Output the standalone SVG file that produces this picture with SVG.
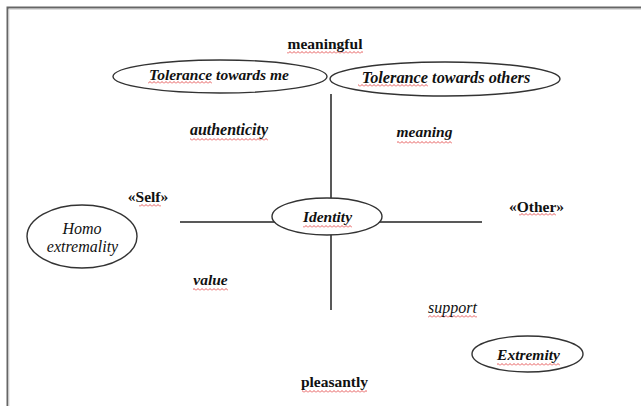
<svg xmlns="http://www.w3.org/2000/svg" width="641" height="406" viewBox="0 0 641 406" font-family="'Liberation Serif', 'Times New Roman', serif">
<defs>
<pattern id="wave" x="0" y="0" width="4" height="3" patternUnits="userSpaceOnUse">
<path d="M0,2.5 L2,0.5 L4,2.5" fill="none" stroke="#e03030" stroke-width="0.8"/>
</pattern>
<style>
.frame{stroke:#666;stroke-width:2;fill:none}
.conn{stroke:#222;stroke-width:1.5;fill:none}
.node{fill:#fff;stroke:#333;stroke-width:1.4}
text{font-family:'Liberation Serif','Times New Roman',serif;font-size:15.5px;fill:#111;text-anchor:middle}
.bi{font-weight:bold;font-style:italic}
.b{font-weight:bold}
.i{font-style:italic}
.s16{font-size:16px}
.s163{font-size:16.3px}
.sq{fill:url(#wave)}
</style>
</defs>
<rect width="641" height="406" fill="#fff"/>
<path class="frame" d="M7.5,406 V7.5 H641"/>
<path d="M9,406 V9.5 H641" stroke="#ddd" stroke-width="1" fill="none"/>

<g id="connectors">
<line class="conn" x1="331" y1="94" x2="331" y2="310"/>
<line class="conn" x1="180" y1="222" x2="482" y2="222"/>
</g>

<g id="tolerance-me">
<ellipse class="node" cx="220" cy="76.5" rx="107" ry="16.5"/>
<rect class="sq" x="148" y="81" width="64" height="3"/>
<text class="bi" x="219" y="80">Tolerance towards me</text>
</g>
<g id="tolerance-others">
<ellipse class="node" cx="445" cy="79" rx="115" ry="17"/>
<rect class="sq" x="358" y="84" width="70" height="3"/>
<text class="bi s163" x="446" y="83">Tolerance towards others</text>
</g>
<g id="identity">
<ellipse class="node" cx="327" cy="216.5" rx="55" ry="18.5"/>
<rect class="sq" x="303" y="225" width="49" height="3"/>
<text class="bi" x="327.5" y="222">Identity</text>
</g>
<g id="homo-extremality">
<ellipse class="node" cx="82" cy="236.5" rx="55" ry="31.5"/>
<text class="i s16" x="82" y="234">Homo</text>
<text class="i s16" x="82.5" y="252">extremality</text>
</g>
<g id="extremity">
<ellipse class="node" cx="527.5" cy="354" rx="55.5" ry="18"/>
<rect class="sq" x="497" y="363" width="63" height="3"/>
<text class="bi" x="528.5" y="360">Extremity</text>
</g>

<g id="labels">
<rect class="sq" x="287" y="51" width="76" height="3"/>
<text class="b" x="325" y="49">meaningful</text>
<rect class="sq" x="190" y="138" width="78" height="3"/>
<text class="bi s16" x="229" y="135">authenticity</text>
<rect class="sq" x="397" y="141" width="55" height="3"/>
<text class="bi" x="424.5" y="137">meaning</text>
<rect class="sq" x="139" y="204" width="22" height="3"/>
<text class="b" x="148" y="202">«Self»</text>
<rect class="sq" x="519" y="213" width="37" height="3"/>
<text class="b" x="536.5" y="212">«Other»</text>
<rect class="sq" x="193" y="288" width="35" height="3"/>
<text class="bi" x="210.5" y="285">value</text>
<rect class="sq" x="428" y="315" width="49" height="3"/>
<text class="i s16" x="452.5" y="313">support</text>
<rect class="sq" x="302" y="390" width="65" height="3"/>
<text class="b" x="334.5" y="387">pleasantly</text>
</g>
</svg>
